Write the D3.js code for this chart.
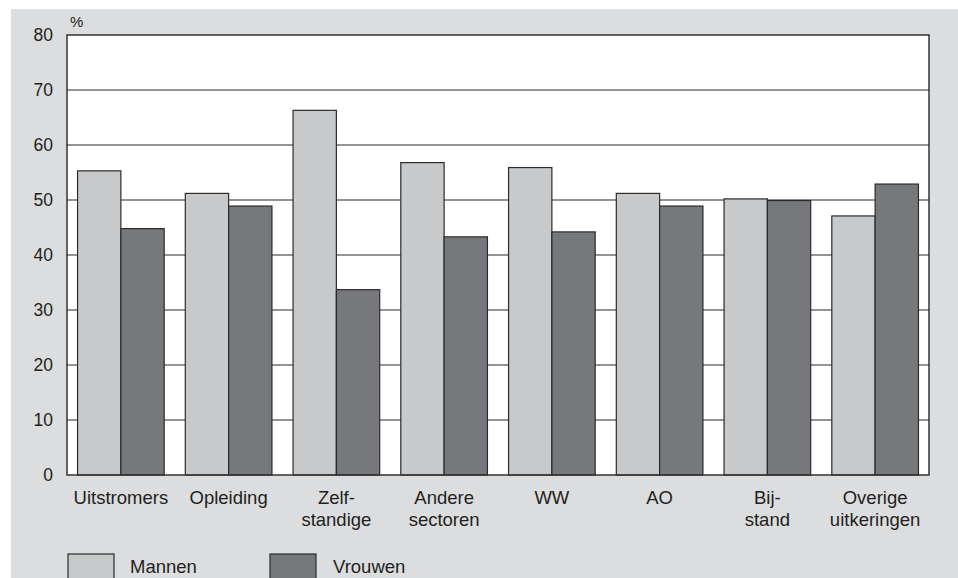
<!DOCTYPE html>
<html><head><meta charset="utf-8">
<script src="https://cdn.jsdelivr.net/npm/d3@7"></script>
<style>body{margin:0;background:#fff}svg{display:block}text{font-family:"Liberation Sans",Arial,sans-serif;fill:#231f20}</style>
</head><body><svg id="c" width="958" height="578"></svg>
<script>
const categories = [["Uitstromers"],["Opleiding"],["Zelf-","standige"],["Andere","sectoren"],["WW"],["AO"],["Bij-","stand"],["Overige","uitkeringen"]];
const mannen = [55.3, 51.2, 66.3, 56.8, 55.9, 51.2, 50.2, 47.1];
const vrouwen = [44.8, 48.9, 33.7, 43.3, 44.2, 48.9, 49.9, 52.9];
const seriesNames = ["Mannen", "Vrouwen"];
const yTicks = [0,10,20,30,40,50,60,70,80];
const colors = ["#c8c9cb", "#77787c"];

const svg = d3.select("#c");
svg.append("rect").attr("x",11).attr("y",9).attr("width",947).attr("height",569).attr("fill","#dcdddf");
const L=67,R=929,T=35,B=475;
svg.append("rect").attr("x",L).attr("y",T).attr("width",R-L).attr("height",B-T).attr("fill","#fff");
const x0 = d3.scaleBand().domain(d3.range(categories.length)).range([L,R]);
const y = d3.scaleLinear().domain([0,80]).range([B,T]);
// gridlines
svg.append("g").selectAll("line").data(yTicks.filter(t=>t>0&&t<80)).join("line")
  .attr("x1",L).attr("x2",R).attr("y1",d=>y(d)).attr("y2",d=>y(d)).attr("stroke","#6f6f6f").attr("stroke-width",1.5);
// bars
const bw = x0.bandwidth()*0.402;
categories.forEach((c,i)=>{
  const cx = x0(i)+x0.bandwidth()/2;
  [mannen[i],vrouwen[i]].forEach((v,j)=>{
    svg.append("rect").attr("x",cx-bw+j*bw).attr("y",y(v)).attr("width",bw).attr("height",y(0)-y(v))
      .attr("fill",colors[j]).attr("stroke","#2b2b2b").attr("stroke-width",1.2);
  });
});
// border
svg.append("rect").attr("x",L).attr("y",T).attr("width",R-L).attr("height",B-T).attr("fill","none").attr("stroke","#333").attr("stroke-width",1.5);
// y axis labels
const yAxis = d3.axisLeft(y).tickValues(yTicks).tickSize(0).tickPadding(14);
const ya = svg.append("g").attr("transform",`translate(${L},0)`).call(yAxis);
ya.select(".domain").remove();
ya.selectAll("text").attr("font-size",17.5).style("font-family","Liberation Sans, Arial, sans-serif").attr("fill","#231f20");
svg.append("text").attr("x",70).attr("y",27).attr("font-size",15).text("%");
// x labels
const xl = svg.append("g");
categories.forEach((c,i)=>{
  const cx = x0(i)+x0.bandwidth()/2;
  const t = xl.append("text").attr("text-anchor","middle").attr("font-size",18.5);
  c.forEach((line,k)=>t.append("tspan").attr("x",cx).attr("y",504+k*22).text(line));
});
// legend
const lg = [[68,130],[270,333]];
seriesNames.forEach((n,i)=>{
  svg.append("rect").attr("x",lg[i][0]).attr("y",554).attr("width",46).attr("height",30).attr("fill",colors[i]).attr("stroke","#2b2b2b").attr("stroke-width",1.2);
  svg.append("text").attr("x",lg[i][1]).attr("y",573).attr("font-size",18.5).text(n);
});
</script></body></html>
